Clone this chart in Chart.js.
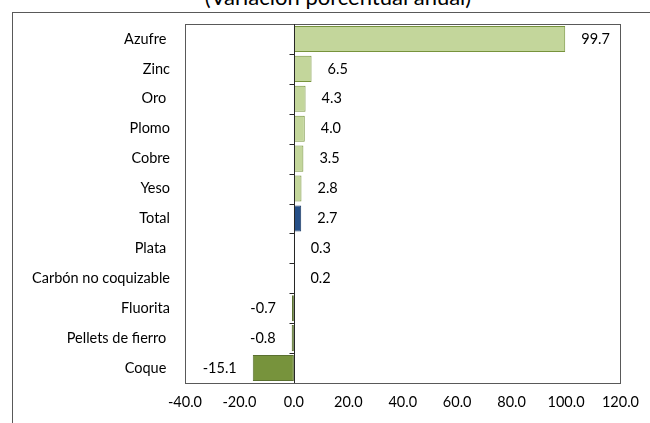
<!DOCTYPE html>
<html lang="es">
<head>
  <meta charset="UTF-8" />
  <title>Variación porcentual anual</title>
  <script src="https://cdn.jsdelivr.net/npm/chart.js@4.4.0/dist/chart.umd.min.js"></script>
  <style>
    body { margin: 0; overflow: hidden; background: #fff; width: 650px; height: 423px; position: relative; }
    #frame {
      position: absolute; left: 12px; top: 12px; width: 700px; height: 500px;
      border-left: 1px solid #595959; border-top: 1px solid #595959;
    }
    #title {
      position: absolute; left: 0; width: 676px; top: -17px; line-height: 26px;
      text-align: center; font: 22px Lato, sans-serif; color: #000;
    }
    #wrap { position: absolute; left: 0; top: 0; width: 650px; height: 423px; }
  </style>
</head>
<body>
  <div id="frame"></div>
  <div id="title">(Variación porcentual anual)</div>
  <div id="wrap"><canvas id="chart"></canvas></div>
  <script>
    const categories = ['Azufre ', 'Zinc', 'Oro ', 'Plomo', 'Cobre', 'Yeso', 'Total',
      'Plata ', 'Carbón no coquizable', 'Fluorita', 'Pellets de fierro ', 'Coque '];
    const values = [99.7, 6.5, 4.3, 4.0, 3.5, 2.8, 2.7, 0.3, 0.2, -0.7, -0.8, -15.1];
    const xMin = -40, xMax = 120, xStep = 20;

    const fillOf = (v, i) => categories[i] === 'Total' ? '#264f87' : (v < 0 ? '#77933c' : '#c3d69b');
    const borderOf = (v, i) => categories[i] === 'Total' ? '#1d3d68' : (v < 0 ? '#5a7030' : '#77933c');

    const FONT = 'Lato, sans-serif';
    const FS = 14.5;

    // caja del área de trazado, eje en cero con marcas y etiquetas de valores
    const extras = {
      id: 'extras',
      afterDatasetsDraw(chart) {
        const { ctx, chartArea: a, scales: { x, y } } = chart;
        ctx.save();
        ctx.strokeStyle = '#595959';
        ctx.lineWidth = 1;
        ctx.strokeRect(Math.round(a.left) + 0.5, Math.round(a.top) + 0.5,
          Math.round(a.right - a.left), Math.round(a.bottom - a.top));

        const x0 = Math.round(x.getPixelForValue(0)) + 0.5;
        ctx.strokeStyle = '#262626';
        ctx.beginPath();
        ctx.moveTo(x0, a.top);
        ctx.lineTo(x0, a.bottom);
        for (let i = 1; i < categories.length; i++) {
          const yb = Math.round((y.getPixelForValue(i - 1) + y.getPixelForValue(i)) / 2) + 0.5;
          ctx.moveTo(x0 - 5, yb);
          ctx.lineTo(x0, yb);
        }
        ctx.stroke();

        ctx.fillStyle = '#000';
        ctx.font = FS + 'px ' + FONT;
        ctx.textBaseline = 'middle';
        chart.getDatasetMeta(0).data.forEach((bar, i) => {
          const v = values[i];
          const txt = v.toFixed(1);
          if (v >= 0) {
            ctx.textAlign = 'left';
            ctx.fillText(txt, bar.x + 16, bar.y);
          } else {
            ctx.textAlign = 'right';
            ctx.fillText(txt, bar.x - 16, bar.y);
          }
        });
        ctx.restore();
      }
    };

    new Chart(document.getElementById('chart'), {
      type: 'bar',
      data: {
        labels: categories,
        datasets: [{
          data: values,
          backgroundColor: values.map(fillOf),
          borderColor: values.map(borderOf),
          borderWidth: 1,
          borderSkipped: false,
          barPercentage: 0.87,
          categoryPercentage: 1
        }]
      },
      options: {
        indexAxis: 'y',
        responsive: true,
        maintainAspectRatio: false,
        animation: false,
        layout: { padding: { left: 0, top: 24, right: 28, bottom: 0 } },
        plugins: { legend: { display: false }, tooltip: { enabled: false } },
        scales: {
          x: {
            min: xMin, max: xMax,
            ticks: {
              stepSize: xStep, color: '#000', padding: 11,
              font: { family: FONT, size: FS },
              callback: v => Number(v).toFixed(1)
            },
            grid: { display: false, drawTicks: false },
            border: { display: false },
            afterFit: s => { s.height = 40; }
          },
          y: {
            ticks: { color: '#000', padding: 15, font: { family: FONT, size: FS } },
            grid: { display: false, drawTicks: false },
            border: { display: false },
            afterFit: s => { s.width = 185; }
          }
        }
      },
      plugins: [extras]
    });
  </script>
</body>
</html>
